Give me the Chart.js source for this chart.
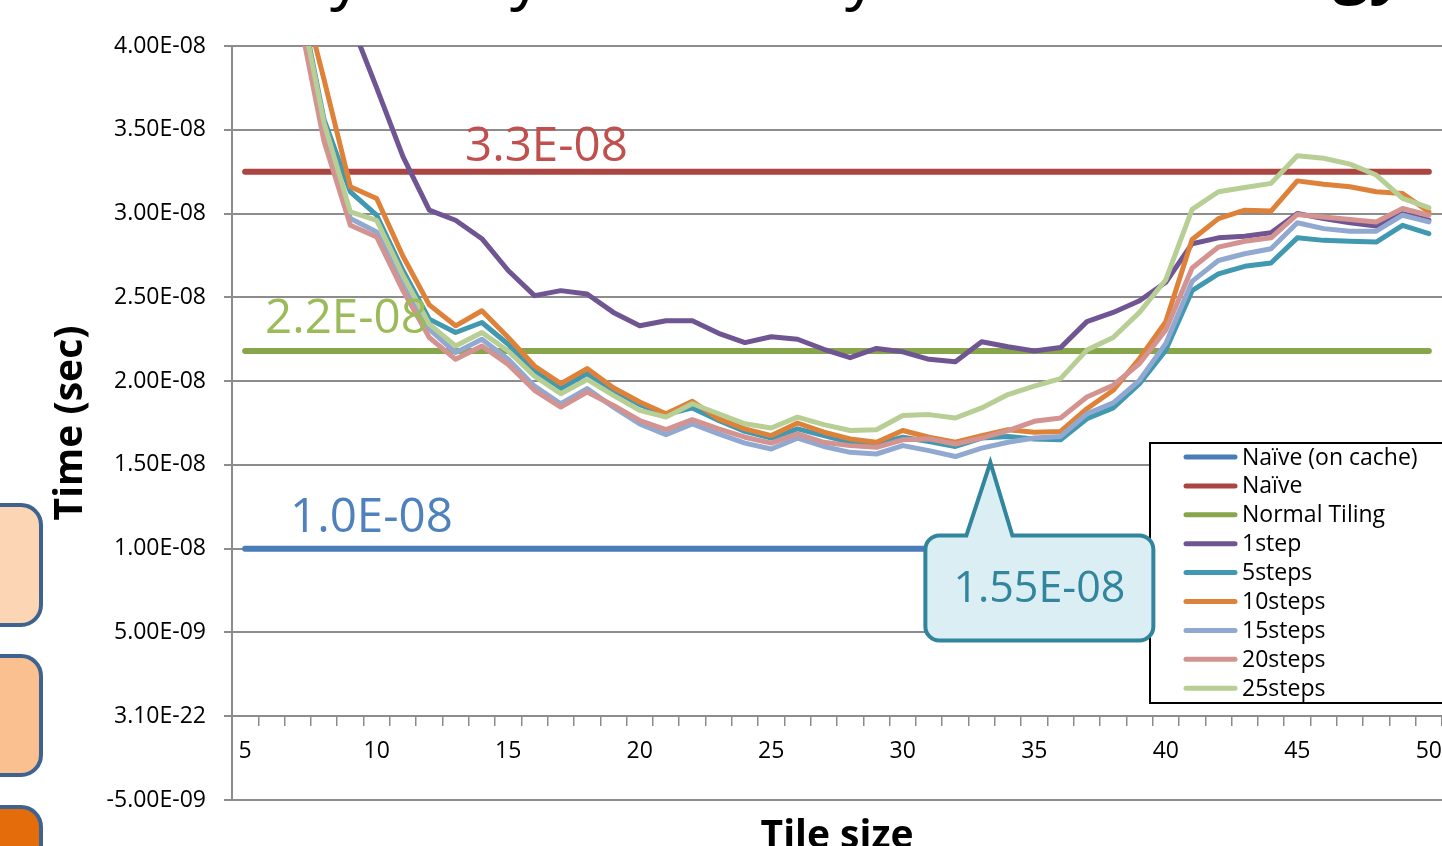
<!DOCTYPE html>
<html>
<head>
<meta charset="utf-8">
<title>Time vs tile size</title>
<script src="https://cdn.jsdelivr.net/npm/chart.js@4.4.1/dist/chart.umd.min.js"></script>
<style>
  html, body { margin: 0; padding: 0; background: #ffffff; overflow: hidden; width: 1442px; height: 846px; }
  #wrap { position: absolute; left: 0; top: 0; width: 1480px; height: 880px; }
  canvas { display: block; }
  .side { position: absolute; box-sizing: border-box; border: 4px solid #3f6390; border-radius: 22px; }
</style>
</head>
<body>
<!-- side buttons of the slide -->
<div class="side" style="left:-40px; top:503px; width:83px; height:124px; background:#fcd5b5;"></div>
<div class="side" style="left:-40px; top:654px; width:83px; height:123px; background:#fac090;"></div>
<div class="side" style="left:-40px; top:805px; width:83px; height:123px; background:#e46c0a;"></div>

<div id="wrap"><canvas id="chart" width="1480" height="880"></canvas></div>

<script>
// Tile sizes on the category axis
const tileSizes = [5, 6, 7, 8, 9, 10, 11, 12, 13, 14, 15, 16, 17, 18, 19, 20, 21, 22, 23, 24, 25, 26, 27, 28,
                   29, 30, 31, 32, 33, 34, 35, 36, 37, 38, 39, 40, 41, 42, 43, 44, 45, 46, 47, 48, 49, 50];

// Reference timings (nanoseconds), flat across all tile sizes
const naiveOnCacheNs = 10.0;
const naiveNs = 32.5;
const normalTilingNs = 21.8;

// Temporal blocking timings per tile size (nanoseconds)
const step1Ns   = [80, 66, 55, 47, 41.5, 37.5, 33.4, 30.2, 29.6, 28.5, 26.6, 25.1, 25.4, 25.2, 24.1, 23.3, 23.6, 23.6,
                   22.85, 22.3, 22.65, 22.5, 21.9, 21.4, 21.95, 21.75, 21.3, 21.15, 22.35, 22.05, 21.8, 22.0, 23.55,
                   24.1, 24.8, 25.9, 28.2, 28.55, 28.65, 28.85, 30.0, 29.7, 29.45, 29.25, 30.0, 29.6];
const steps5Ns  = [68, 54, 43.5, 35.6, 31.3, 29.9, 26.6, 23.7, 22.9, 23.5, 22.2, 20.6, 19.55, 20.45, 19.45, 18.6, 18.0,
                   18.4, 17.65, 17.0, 16.6, 17.15, 16.75, 16.35, 16.25, 16.65, 16.4, 16.1, 16.6, 16.7, 16.55, 16.5,
                   17.75, 18.4, 19.85, 21.85, 25.4, 26.4, 26.85, 27.05, 28.55, 28.4, 28.35, 28.3, 29.3, 28.8];
const steps10Ns = [72, 57, 44.1, 38.0, 31.6, 30.9, 27.45, 24.55, 23.3, 24.2, 22.6, 20.9, 19.85, 20.75, 19.6, 18.75,
                   18.05, 18.8, 17.75, 17.15, 16.75, 17.5, 16.95, 16.55, 16.35, 17.05, 16.65, 16.35, 16.75, 17.1,
                   16.95, 17.0, 18.35, 19.45, 21.35, 23.55, 28.45, 29.7, 30.2, 30.15, 31.95, 31.75, 31.6, 31.3, 31.2, 30.1];
const steps15Ns = [66, 52, 42.8, 34.9, 29.7, 28.9, 25.8, 23.1, 21.7, 22.5, 21.3, 19.7, 18.65, 19.55, 18.45, 17.45, 16.8,
                   17.45, 16.85, 16.3, 15.95, 16.6, 16.1, 15.75, 15.65, 16.15, 15.85, 15.5, 16.0, 16.35, 16.6, 16.7,
                   18.05, 18.7, 20.05, 22.25, 25.95, 27.2, 27.6, 27.9, 29.45, 29.1, 28.95, 28.95, 29.9, 29.5];
const steps20Ns = [63, 50, 42.2, 34.3, 29.3, 28.6, 25.4, 22.6, 21.3, 22.1, 21.0, 19.45, 18.45, 19.35, 18.55, 17.65, 17.1,
                   17.7, 17.15, 16.65, 16.3, 16.85, 16.35, 16.15, 16.05, 16.5, 16.55, 16.25, 16.6, 17.05, 17.6, 17.8,
                   19.05, 19.75, 21.05, 23.05, 26.75, 28.0, 28.35, 28.55, 29.95, 29.8, 29.65, 29.5, 30.3, 29.9];
const steps25Ns = [70, 55, 43.3, 35.4, 30.1, 29.6, 26.3, 23.4, 22.1, 22.9, 21.8, 20.3, 19.25, 20.1, 19.15, 18.25, 17.85,
                   18.65, 18.05, 17.45, 17.2, 17.85, 17.4, 17.05, 17.1, 17.95, 18.0, 17.8, 18.4, 19.2, 19.7, 20.15,
                   21.85, 22.6, 24.1, 26.05, 30.25, 31.3, 31.55, 31.8, 33.45, 33.3, 32.95, 32.3, 30.9, 30.35];

// Tick labels of the value axis, bottom to top
const yTickLabels = ['-5.00E-09', '3.10E-22', '5.00E-09', '1.00E-08', '1.50E-08',
                     '2.00E-08', '2.50E-08', '3.00E-08', '3.50E-08', '4.00E-08'];

const seriesNames = ['Naïve (on cache)', 'Naïve', 'Normal Tiling', '1step', '5steps', '10steps', '15steps', '20steps', '25steps'];

const NS = 1e-9;
const toSec = arr => arr.map(v => v * NS);
const flat = v => tileSizes.map(() => v * NS);

const seriesData = [
  flat(naiveOnCacheNs), flat(naiveNs), flat(normalTilingNs),
  toSec(step1Ns), toSec(steps5Ns), toSec(steps10Ns), toSec(steps15Ns), toSec(steps20Ns), toSec(steps25Ns)
];

const lineColors = ['#4a7cb8', '#aa4542', '#87a64c', '#6f5592', '#4099b0', '#de8239', '#91a9d0', '#d39391', '#b7ce94'];
const lineWidths = [6, 6, 6, 5, 5, 5, 5, 5, 5];

// "3.3E-08" style: mantissa rounded half-up to the given number of decimals
function fmtE(v, digits) {
  const parts = v.toExponential(6).split('e');
  const f = Math.pow(10, digits);
  let m = Math.round(parseFloat(parts[0]) * f) / f;
  let e = parseInt(parts[1], 10);
  if (m >= 10) { m /= 10; e += 1; }
  const sign = e < 0 ? '-' : '+';
  return m.toFixed(digits) + 'E' + sign + String(Math.abs(e)).padStart(2, '0');
}

const FONT = '"Open Sans", sans-serif';

// Text labels, legend panel, call-out and the horizontal axis title
const overlayPlugin = {
  id: 'overlay',
  afterDraw(chart) {
    const ctx = chart.ctx;
    const xs = chart.scales.x, ys = chart.scales.y;
    const area = chart.chartArea;
    const ds = chart.data.datasets;

    ctx.save();

    // slide title, only its descenders reach below the top edge
    ctx.fillStyle = '#000000';
    ctx.textAlign = 'left';
    ctx.textBaseline = 'alphabetic';
    ctx.font = '64px ' + FONT;
    [330, 510, 845].forEach(x => ctx.fillText('y', x, -3));
    ctx.font = 'bold 64px ' + FONT;
    ctx.fillText('gy', 1333, -10);

    // values written above the three flat reference lines
    const notes = [
      { set: 1, x: 465, lift: 11, color: '#c0504d' },
      { set: 2, x: 265, lift: 18, color: '#9bbb59' },
      { set: 0, x: 290, lift: 17, color: '#4f81bd' }
    ];
    ctx.font = '47.5px ' + FONT;
    notes.forEach(n => {
      const v = ds[n.set].data[0];
      ctx.fillStyle = n.color;
      ctx.fillText(fmtE(v, 1), n.x, ys.getPixelForValue(v) - n.lift);
    });

    // legend panel
    const lg = { left: 1150, top: 443, bottom: 703, right: 1478, rowTop: 457, rowGap: 28.9 };
    ctx.fillStyle = '#ffffff';
    ctx.fillRect(lg.left, lg.top, lg.right - lg.left, lg.bottom - lg.top);
    ctx.strokeStyle = '#000000';
    ctx.lineWidth = 2;
    ctx.strokeRect(lg.left, lg.top, lg.right - lg.left, lg.bottom - lg.top);
    ctx.font = '23px ' + FONT;
    ctx.textBaseline = 'middle';
    ds.forEach((d, i) => {
      const yy = lg.rowTop + i * lg.rowGap;
      ctx.strokeStyle = d.borderColor;
      ctx.lineWidth = 5;
      ctx.lineCap = 'round';
      ctx.beginPath();
      ctx.moveTo(1186, yy);
      ctx.lineTo(1235, yy);
      ctx.stroke();
      ctx.fillStyle = '#000000';
      ctx.fillText(d.label, 1242, yy + 1);
    });

    // call-out pointing at the fastest 15steps run
    const s15 = ds[6].data;
    let best = 0;
    s15.forEach((v, i) => { if (v < s15[best]) best = i; });
    const px = xs.getPixelForValue(best), py = ys.getPixelForValue(s15[best]);
    const tip = { x: px + 35, y: py + 6 };
    const bx = { l: tip.x - 65, r: tip.x + 163, t: tip.y + 73, b: tip.y + 178 };
    const r = 14;
    ctx.beginPath();
    ctx.moveTo(bx.l + r, bx.t);
    ctx.lineTo(tip.x - 24, bx.t);
    ctx.lineTo(tip.x, tip.y);
    ctx.lineTo(tip.x + 22, bx.t);
    ctx.lineTo(bx.r - r, bx.t);
    ctx.arcTo(bx.r, bx.t, bx.r, bx.t + r, r);
    ctx.lineTo(bx.r, bx.b - r);
    ctx.arcTo(bx.r, bx.b, bx.r - r, bx.b, r);
    ctx.lineTo(bx.l + r, bx.b);
    ctx.arcTo(bx.l, bx.b, bx.l, bx.b - r, r);
    ctx.lineTo(bx.l, bx.t + r);
    ctx.arcTo(bx.l, bx.t, bx.l + r, bx.t, r);
    ctx.closePath();
    ctx.fillStyle = '#dbeef4';
    ctx.fill();
    ctx.lineWidth = 4;
    ctx.lineJoin = 'miter';
    ctx.strokeStyle = '#31859c';
    ctx.stroke();
    ctx.fillStyle = '#31859c';
    ctx.font = '43px ' + FONT;
    ctx.textAlign = 'center';
    ctx.textBaseline = 'middle';
    ctx.fillText(fmtE(s15[best], 2), (bx.l + bx.r) / 2, (bx.t + bx.b) / 2 + 2);

    // horizontal axis title
    ctx.fillStyle = '#000000';
    ctx.font = 'bold 39px ' + FONT;
    ctx.textAlign = 'center';
    ctx.textBaseline = 'alphabetic';
    ctx.fillText('Tile size', (area.left + area.right) / 2, 848);

    ctx.restore();
  }
};

new Chart(document.getElementById('chart'), {
  type: 'line',
  data: {
    labels: tileSizes,
    datasets: seriesNames.map((name, i) => ({
      label: name,
      data: seriesData[i],
      borderColor: lineColors[i],
      backgroundColor: lineColors[i],
      borderWidth: lineWidths[i],
      borderCapStyle: 'round',
      borderJoinStyle: 'round',
      pointRadius: 0,
      tension: 0,
      fill: false,
      clip: { left: 6, right: 6, top: 0, bottom: 6 },
      order: seriesNames.length - i
    }))
  },
  options: {
    responsive: false,
    animation: false,
    devicePixelRatio: 1,
    layout: { padding: { left: 0, top: 46, right: 38, bottom: 80 } },
    plugins: {
      legend: { display: false },
      tooltip: { enabled: false },
      title: { display: false }
    },
    scales: {
      x: {
        type: 'category',
        position: { y: 0 },
        offset: true,
        grid: { display: true, offset: true, drawOnChartArea: false, drawTicks: true, tickLength: 9, color: '#8c8c8c', lineWidth: 1.5 },
        border: { display: true, color: '#8c8c8c', width: 2 },
        ticks: {
          autoSkip: false, maxRotation: 0, minRotation: 0, padding: 12,
          color: '#000000', font: { family: FONT, size: 23 },
          callback: (value, index) => (tileSizes[index] % 5 === 0 ? String(tileSizes[index]) : '')
        }
      },
      y: {
        type: 'linear',
        min: -5e-9,
        max: 4e-8,
        afterFit: scale => { scale.width = 232; },
        grid: { color: '#8c8c8c', lineWidth: 2, drawTicks: true, tickLength: 8 },
        border: { display: true, color: '#8c8c8c', width: 2 },
        ticks: {
          stepSize: 5e-9, padding: 18, color: '#000000', font: { family: FONT, size: 23 },
          callback: (value, index) => yTickLabels[index]
        },
        title: {
          display: true, text: 'Time (sec)', color: '#000000',
          font: { family: FONT, size: 39, weight: 'bold' },
          padding: { top: 47, bottom: 0 }
        }
      }
    }
  },
  plugins: [overlayPlugin]
});
</script>
</body>
</html>
